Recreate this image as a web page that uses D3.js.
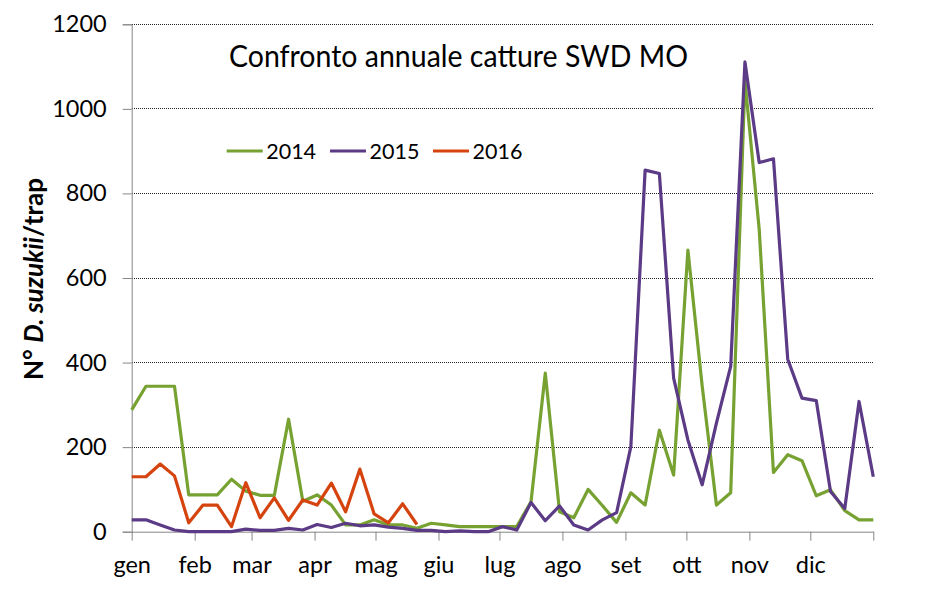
<!DOCTYPE html>
<html>
<head>
<meta charset="utf-8">
<script src="https://cdn.jsdelivr.net/npm/d3@7"></script>
<style>
  html, body { margin: 0; padding: 0; background: #fff; }
  svg text { font-family: Lato, "Open Sans", sans-serif; }
</style>
</head>
<body>
<svg id="chart" width="943" height="598"></svg>
<script>
// ---- data ----
const monthLabels = ["gen","feb","mar","apr","mag","giu","lug","ago","set","ott","nov","dic"];
const yTicks = [0,200,400,600,800,1000,1200];
const seriesNames = ["2014","2015","2016"];
const seriesColors = ["#77a232","#5b3a86","#d5440f"];

// weekly captures (week 1 .. week 53)
const values2014 = [288,344,344,344,87,87,87,124,96,86,86,266,72,87,63,16,16,28,16,16,8,20,
                    16,12,12,12,12,12,71,375,47,33,100,62,22,92,63,240,134,666,345,63,92,1066,
                    715,140,182,168,85,99,50,28,28];
const values2015 = [28,28,16,4,0,0,0,0,6,3,3,8,4,17,10,20,14,16,11,8,3,3,
                    0,2,0,0,12,4,69,26,61,16,4,28,45,201,855,847,363,217,111,257,391,1111,
                    873,882,408,316,310,95,55,308,130];
const values2016 = [130,130,160,132,21,63,63,12,116,33,80,27,75,63,115,47,148,42,21,66,17];

const allSeries = [values2014, values2015, values2016];

// ---- layout ----
const svg = d3.select("#chart");
const pLeft = 131.7, pRight = 873.3, pTop = 24.3, pBottom = 531.7;

const y = d3.scaleLinear().domain([0,1200]).range([pBottom, pTop]);
const xWeek = d3.scaleLinear().domain([0,52]).range([pLeft, pRight]);
const xDate = d3.scaleTime()
  .domain([new Date(2015,0,1), new Date(2016,0,1)])
  .range([pLeft, pRight]);
const monthStarts = d3.timeMonth.range(new Date(2015,0,1), new Date(2016,0,2));

// gridlines
svg.append("g").selectAll("line")
  .data(yTicks.filter(d => d > 0))
  .join("line")
  .attr("x1", pLeft).attr("x2", pRight)
  .attr("y1", d => y(d)).attr("y2", d => y(d))
  .attr("stroke", "#222").attr("stroke-width", 1)
  .attr("stroke-dasharray", "1,1")
  .attr("shape-rendering", "crispEdges");

// y axis
const yAxis = d3.axisLeft(y).tickValues(yTicks).tickSize(9).tickPadding(16)
  .tickFormat(d3.format("d"));
const gy = svg.append("g").attr("transform", `translate(${pLeft},0)`).call(yAxis);
gy.select(".domain").attr("stroke", "#868686");
gy.selectAll(".tick line").attr("stroke", "#868686");
gy.selectAll(".tick text").attr("font-size", 23.5).attr("fill", "#000")
  .style("font-family", "Lato, sans-serif");

// x axis
const xAxis = d3.axisBottom(xDate).tickValues(monthStarts).tickSize(9).tickSizeOuter(0)
  .tickFormat((d, i) => i < 12 ? monthLabels[i] : "").tickPadding(16);
const gx = svg.append("g").attr("transform", `translate(0,${pBottom})`).call(xAxis);
gx.select(".domain").attr("stroke", "#868686");
gx.selectAll(".tick line").attr("stroke", "#868686");
gx.selectAll(".tick text").attr("font-size", 23.5).attr("fill", "#000")
  .style("font-family", "Lato, sans-serif");

// lines
const line = d3.line().x((d, i) => xWeek(i)).y(d => y(d));
svg.append("g").selectAll("path")
  .data(allSeries)
  .join("path")
  .attr("d", d => line(d))
  .attr("fill", "none")
  .attr("stroke", (d, i) => seriesColors[i])
  .attr("stroke-width", 3.2)
  .attr("stroke-linejoin", "round");

// title
svg.append("text")
  .attr("x", 229).attr("y", 66.5)
  .attr("font-size", 30)
  .attr("textLength", 459).attr("lengthAdjust", "spacingAndGlyphs")
  .text("Confronto annuale catture SWD MO");

// legend
const legendX = [226.7, 330, 433];
const lg = svg.append("g").selectAll("g").data(seriesNames).join("g")
  .attr("transform", (d, i) => `translate(${legendX[i]},151)`);
lg.append("line").attr("x1", 0).attr("x2", 36).attr("y1", 0).attr("y2", 0)
  .attr("stroke", (d, i) => seriesColors[i]).attr("stroke-width", 3.2);
lg.append("text").attr("x", 39.5).attr("y", 7.5).attr("font-size", 21.5).text(d => d);

// y axis title
const yt = svg.append("text")
  .attr("transform", "translate(43,279) rotate(-90)")
  .attr("text-anchor", "middle")
  .attr("font-size", 26).attr("font-weight", "bold")
  .attr("textLength", 202).attr("lengthAdjust", "spacingAndGlyphs");
yt.append("tspan").text("N° ");
yt.append("tspan").attr("font-style", "italic").text("D. suzukii");
yt.append("tspan").text("/trap");
</script>
</body>
</html>
